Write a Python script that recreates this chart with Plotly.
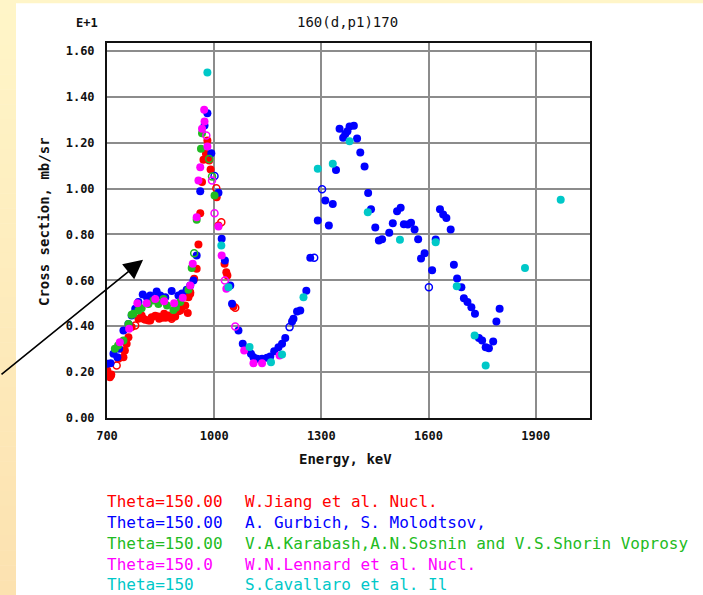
import plotly.graph_objects as go

# ---- data: energy (keV) and cross section (x10 mb/sr) ----
jiang_E = [701, 708, 711, 712, 732, 746, 748, 750, 755, 760, 769, 788, 797, 802, 807, 816, 821,
           825, 835, 844, 846, 853, 860, 863, 869, 872, 881, 891, 900, 905, 909, 919, 926, 928,
           933, 933, 944, 951, 956, 961, 966, 970, 977, 981, 986, 990, 1007, 1012, 1029, 1034,
           1037, 1054]
jiang_v = [0.207, 0.178, 0.185, 0.190, 0.258, 0.265, 0.294, 0.294, 0.323, 0.352, 0.396, 0.432,
           0.447, 0.432, 0.428, 0.425, 0.425, 0.439, 0.445, 0.442, 0.432, 0.437, 0.454, 0.437,
           0.439, 0.447, 0.437, 0.442, 0.465, 0.468, 0.480, 0.490, 0.457, 0.526, 0.541, 0.548,
           0.607, 0.650, 0.756, 0.892, 1.028, 1.125, 1.151, 1.209, 1.122, 1.083, 0.962, 0.839,
           0.672, 0.635, 0.621, 0.486]
jiang_open_E = [727, 779, 881, 1006, 1020, 1059]
jiang_open_v = [0.229, 0.403, 0.432, 1.001, 0.853, 0.480]

gurbich_E = [701, 710, 718, 729, 734, 746, 760, 769, 779, 788, 800, 812, 821, 839, 849, 863, 881,
             900, 910, 923, 933, 942, 951, 961, 973, 981, 992, 1012, 1021, 1030, 1045, 1050,
             1068, 1080, 1092, 1103, 1110, 1120, 1134, 1148, 1157, 1168, 1180, 1190, 1199, 1218,
             1222, 1232, 1241, 1258, 1269, 1290, 1311, 1321, 1332, 1341, 1351, 1361, 1367, 1373,
             1379, 1391, 1400, 1409, 1421, 1431, 1439, 1451, 1461, 1470, 1490, 1500, 1512, 1522,
             1531, 1542, 1551, 1561, 1571, 1579, 1589, 1610, 1620, 1632, 1641, 1650, 1662, 1671,
             1680, 1692, 1699, 1709, 1720, 1730, 1741, 1750, 1760, 1769, 1781, 1790, 1799]
gurbich_v = [0.236, 0.239, 0.280, 0.265, 0.302, 0.381, 0.410, 0.447, 0.476, 0.505, 0.538, 0.525,
             0.534, 0.551, 0.534, 0.526, 0.553, 0.534, 0.542, 0.559, 0.577, 0.599, 0.708, 0.988,
             1.274, 1.328, 1.154, 0.981, 0.781, 0.686, 0.577, 0.498, 0.381, 0.323, 0.302, 0.280,
             0.265, 0.258, 0.258, 0.262, 0.268, 0.291, 0.308, 0.323, 0.349, 0.420, 0.432, 0.464,
             0.468, 0.555, 0.698, 0.861, 0.948, 0.839, 0.933, 1.081, 1.260, 1.221, 1.238, 1.250,
             1.270, 1.273, 1.218, 1.157, 1.096, 0.980, 0.910, 0.830, 0.773, 0.779, 0.807, 0.849,
             0.901, 0.916, 0.844, 0.843, 0.851, 0.821, 0.779, 0.695, 0.718, 0.644, 0.778, 0.910,
             0.887, 0.872, 0.821, 0.668, 0.608, 0.570, 0.522, 0.505, 0.483, 0.454, 0.349, 0.338,
             0.308, 0.304, 0.333, 0.420, 0.476]
gurbich_open_E = [1001, 1211, 1280, 1302, 1601]
gurbich_open_v = [1.054, 0.396, 0.698, 0.997, 0.570]

karabash_E = [722, 731, 746, 760, 769, 774, 788, 797, 816, 830, 844, 858, 868, 886, 893, 905, 928,
              937, 951, 963, 966, 1001]
karabash_v = [0.302, 0.316, 0.338, 0.410, 0.450, 0.454, 0.468, 0.478, 0.497, 0.512, 0.497, 0.519,
              0.490, 0.471, 0.481, 0.505, 0.559, 0.654, 0.864, 1.173, 1.241, 0.969]
karabash_open_E = [944, 986, 994]
karabash_open_v = [0.718, 1.129, 1.052]

lennard_E = [736, 762, 785, 811, 835, 860, 888, 912, 933, 940, 951, 956, 961, 966, 972, 973, 981,
             1012, 1021, 1034, 1084, 1110, 1134, 1183]
lennard_v = [0.330, 0.389, 0.500, 0.500, 0.519, 0.509, 0.500, 0.524, 0.577, 0.672, 0.875, 1.035,
             1.093, 1.260, 1.343, 1.292, 1.183, 0.834, 0.708, 0.563, 0.294, 0.239, 0.239, 0.272]
lennard_open_E = [978, 994, 1001, 1030, 1059]
lennard_open_v = [1.231, 1.035, 0.892, 0.599, 0.399]

cavallaro_E = [981, 1020, 1040, 1099, 1159, 1190, 1250, 1290, 1332, 1379, 1430, 1520, 1620, 1679,
               1729, 1760, 1870, 1970]
cavallaro_v = [1.505, 0.752, 0.570, 0.309, 0.243, 0.277, 0.526, 1.086, 1.108, 1.206, 0.897, 0.777,
               0.766, 0.574, 0.359, 0.229, 0.654, 0.951]

legend_theta = ["Theta=150.00", "Theta=150.00", "Theta=150.00", "Theta=150.0", "Theta=150"]
legend_ref = ["W.Jiang et al. Nucl.", "A. Gurbich, S. Molodtsov,",
              "V.A.Karabash,A.N.Sosnin and V.S.Shorin Voprosy",
              "W.N.Lennard et al. Nucl.", "S.Cavallaro et al. Il"]

x_ticks = [700, 1000, 1300, 1600, 1900]
y_ticks = [0.0, 0.2, 0.4, 0.6, 0.8, 1.0, 1.2, 1.4, 1.6]

RED, BLUE, GREEN, MAGENTA, CYAN = "#ff0000", "#0000ff", "#22bb22", "#ff00ff", "#00c8c8"

# ---- page geometry (pixels) ----
W, H = 703, 595
L, R, T, B = 107, 113, 43, 177
PW, PH = W - L - R, H - T - B


def px(xp):
    return (xp - L) / PW


def py(yp):
    return (H - B - yp) / PH


fig = go.Figure()

series = [
    (jiang_E, jiang_v, jiang_open_E, jiang_open_v, RED),
    (gurbich_E, gurbich_v, gurbich_open_E, gurbich_open_v, BLUE),
    (karabash_E, karabash_v, karabash_open_E, karabash_open_v, GREEN),
    (lennard_E, lennard_v, lennard_open_E, lennard_open_v, MAGENTA),
    (cavallaro_E, cavallaro_v, [], [], CYAN),
]
for e, v, eo, vo, col in series:
    fig.add_trace(go.Scatter(x=e, y=v, mode="markers", showlegend=False,
                             marker=dict(symbol="circle", size=8, color=col,
                                         line=dict(width=0))))
    if eo:
        fig.add_trace(go.Scatter(x=eo, y=vo, mode="markers", showlegend=False,
                                 marker=dict(symbol="circle-open", size=7, color=col,
                                             line=dict(width=1.5, color=col))))

mono = "DejaVu Sans Mono"
axis_common = dict(showline=True, linecolor="#111111", linewidth=2, mirror=True,
                   showgrid=True, gridcolor="#8c8c8c", gridwidth=1.5, zeroline=False,
                   ticks="", tickfont=dict(family=mono, size=12, color="#111111", weight="bold"))

fig.update_xaxes(range=[700, 2052], tickvals=x_ticks, ticktext=[str(t) for t in x_ticks],
                 ticklabelstandoff=6, **axis_common)
fig.update_yaxes(range=[0, 1.634], tickvals=y_ticks, ticktext=[f"{t:.2f}" for t in y_ticks],
                 ticklabelstandoff=8, **axis_common)

shapes = []
# pale top strip and shaded left strip of the page
shapes.append(dict(type="rect", xref="paper", yref="paper", x0=px(0), x1=px(W), y0=py(3.3),
                   y1=py(0), fillcolor="#fff5c8", line=dict(width=0), layer="below"))
n = 40
c0, c1 = (255, 245, 200), (252, 226, 176)
for i in range(n):
    f = i / (n - 1)
    c = tuple(round(a + (b - a) * f) for a, b in zip(c0, c1))
    shapes.append(dict(type="rect", xref="paper", yref="paper", x0=px(0), x1=px(16),
                       y0=py(H * (i + 1) / n + 0.5), y1=py(H * i / n),
                       fillcolor=f"rgb{c}", line=dict(width=0), layer="below"))


def label(text, xp, yp, size, color="#111111", bold=False, xanchor="center", angle=0):
    return dict(text=text, x=px(xp), y=py(yp), xref="paper", yref="paper", showarrow=False,
                xanchor=xanchor, yanchor="middle", textangle=angle,
                font=dict(family=mono, size=size, color=color,
                          weight="bold" if bold else "normal"))


ann = [
    label("E+1", 87, 23, 12, bold=True),
    label("160(d,p1)170", 347, 22, 14),
    label("Energy, keV", 345, 459, 14, bold=True),
    label("Cross section, mb/sr", 44, 222, 14, bold=True, angle=-90),
]
leg_y = [501, 522, 543, 564, 584]
for th, ref, col, yy in zip(legend_theta, legend_ref, [RED, BLUE, GREEN, MAGENTA, CYAN], leg_y):
    ann.append(label(th, 105, yy, 16, color=col, xanchor="left"))
    ann.append(label(ref, 243, yy, 16, color=col, xanchor="left"))
# pointer arrow
ann.append(dict(text="", x=801, y=0.69, xref="x", yref="y", showarrow=True, ax=-146, ay=116,
                arrowhead=2, arrowsize=2.4, arrowwidth=1.6, arrowcolor="#000000"))

fig.update_layout(width=W, height=H, margin=dict(l=L, r=R, t=T, b=B, autoexpand=False),
                  paper_bgcolor="#ffffff", plot_bgcolor="#ffffff",
                  shapes=shapes, annotations=ann)

fig.write_html("out.html")
